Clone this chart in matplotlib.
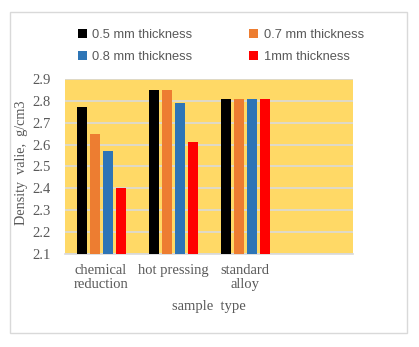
"""Density of samples by preparation route and foil thickness."""

import matplotlib.pyplot as plt
import numpy as np
from matplotlib.patches import Rectangle

categories = ["chemical\nreduction", "hot pressing", "standard\nalloy", ""]
series_names = ["0.5 mm thickness", "0.7 mm thickness", "0.8 mm thickness", "1mm thickness"]
thick_05 = [2.77, 2.85, 2.81, np.nan]
thick_07 = [2.65, 2.85, 2.81, np.nan]
thick_08 = [2.57, 2.79, 2.81, np.nan]
thick_10 = [2.40, 2.61, 2.81, np.nan]
y_ticks = [2.1, 2.2, 2.3, 2.4, 2.5, 2.6, 2.7, 2.8, 2.9]

colors = ["#000000", "#ED7D31", "#2E75B6", "#FF0000"]
text_gray = "#595959"
serif = "Liberation Serif"

fig = plt.figure(figsize=(4.19, 3.47), dpi=100)
ax = fig.add_axes([65 / 419, 1 - 254 / 347, 288 / 419, 175 / 347])
ax.set_facecolor("#FFD966")

x = np.arange(len(categories))
bar_width = 10 / 72
step = 13 / 72
handles = []
for i, (values, name) in enumerate(zip([thick_05, thick_07, thick_08, thick_10], series_names)):
    offset = (i - 1.5) * step
    bars = ax.bar(x + offset, np.array(values) - 2.1, bottom=2.1, width=bar_width,
                  color=colors[i], label=name, zorder=3)
    handles.append(bars)

ax.set_xlim(-0.5, 3.5)
ax.set_ylim(2.1, 2.9)
ax.set_yticks(y_ticks)
ax.set_yticklabels([f"{v:.1f}" for v in y_ticks])
ax.set_xticks(x)
ax.set_xticklabels(categories, fontsize=10.5, family=serif,
                   color=text_gray, linespacing=1.15)
for label in ax.get_yticklabels():
    label.set_fontsize(10.5)
    label.set_family(serif)
    label.set_color(text_gray)
ax.tick_params(axis="y", length=0, pad=10)
ax.tick_params(axis="x", length=0, pad=7)
ax.grid(axis="y", color="#D9D9D9", linewidth=1.2, zorder=1)
for side in ["top", "right", "left"]:
    ax.spines[side].set_visible(False)
ax.spines["bottom"].set_color("#D9D9D9")
ax.spines["bottom"].set_linewidth(1.2)

ax.set_ylabel("Density  valie,  g/cm3", fontsize=10.2, family=serif,
              color=text_gray, labelpad=0)
ax.yaxis.set_label_coords(-0.128, 0.52)
ax.set_xlabel("sample  type", fontsize=10.5, family=serif,
              color=text_gray, labelpad=6)

# legend reads row by row: 0.5 / 0.7 on top, 0.8 / 1mm below
order = [0, 2, 1, 3]
fig.legend([handles[k] for k in order], [series_names[k] for k in order],
           loc="upper left", bbox_to_anchor=(66 / 419, 1 - 17 / 347), ncol=2,
           frameon=False, handlelength=0.7, handleheight=0.7, handletextpad=0.4,
           columnspacing=4.45, labelspacing=0.8,
           prop={"family": "Liberation Sans", "size": 9.3}, labelcolor=text_gray)

fig.patches.append(Rectangle((10 / 419, 1 - 333 / 347), 397 / 419, 321 / 347,
                             transform=fig.transFigure, fill=False,
                             edgecolor="#D9D9D9", linewidth=1))

fig.savefig("out.png", dpi=100)
